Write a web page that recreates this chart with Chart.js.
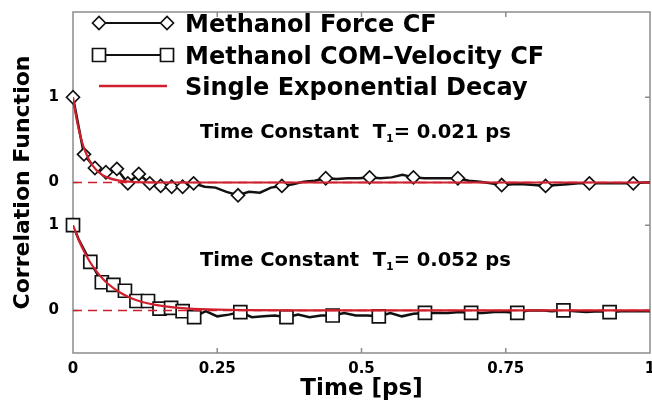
<!DOCTYPE html>
<html>
<head>
<meta charset="utf-8">
<title>Methanol correlation functions</title>
<script src="https://cdn.jsdelivr.net/npm/chart.js@4.4.0/dist/chart.umd.min.js"></script>
<style>
  html, body { margin: 0; padding: 0; background: #fff; }
  #wrap { width: 652px; height: 404px; }
</style>
</head>
<body>
<div id="wrap"><canvas id="cfChart" width="652" height="404"></canvas></div>
<script>
// --- DATA ---
const xTickValues = [0, 0.25, 0.5, 0.75, 1];
const xTickLabels = ['0', '0.25', '0.5', '0.75', '1'];
const yTickValues = [0, 1, 1.5, 2.5];
const yTickLabels = ['0', '1', '0', '1'];
const topOffset = 1.5; // force CF panel is drawn 1.5 units above the COM panel

const forceTime = [0, 0.019, 0.038, 0.057, 0.076, 0.095, 0.114, 0.133, 0.152, 0.171,
  0.19, 0.209, 0.228, 0.247, 0.266, 0.286, 0.305, 0.324, 0.343, 0.362,
  0.381, 0.4, 0.419, 0.438, 0.457, 0.476, 0.495, 0.514, 0.533, 0.552,
  0.571, 0.59, 0.609, 0.628, 0.647, 0.667, 0.686, 0.705, 0.724, 0.743,
  0.762, 0.781, 0.8, 0.819, 0.838, 0.857, 0.876, 0.895, 0.914, 0.933,
  0.952, 0.971, 0.99, 1.0];
const forceCF = [1.0, 0.33, 0.17, 0.12, 0.16, -0.01, 0.10, -0.01, -0.04, -0.05,
  -0.05, -0.01, -0.05, -0.06, -0.11, -0.15, -0.11, -0.12, -0.06, -0.04,
  -0.02, 0.01, 0.02, 0.05, 0.04, 0.05, 0.05, 0.06, 0.05, 0.06,
  0.09, 0.06, 0.05, 0.05, 0.05, 0.05, 0.02, 0.01, -0.01, -0.03,
  -0.02, -0.02, -0.03, -0.04, -0.03, -0.02, -0.01, -0.01, -0.01, -0.01,
  -0.01, -0.01, 0.0, 0.0];
const forceMarkerIdx = [0, 1, 2, 3, 4, 5, 6, 7, 8, 9, 10, 11, 15, 19, 23, 27, 31, 35, 39, 43, 47, 51];

const comTime = [0, 0.01, 0.03, 0.05, 0.07, 0.09, 0.11, 0.13, 0.15, 0.17,
  0.19, 0.21, 0.23, 0.25, 0.27, 0.29, 0.31, 0.33, 0.35, 0.37,
  0.39, 0.41, 0.43, 0.45, 0.47, 0.49, 0.51, 0.53, 0.55, 0.57,
  0.59, 0.61, 0.63, 0.65, 0.67, 0.69, 0.71, 0.73, 0.75, 0.77,
  0.79, 0.81, 0.83, 0.85, 0.87, 0.89, 0.91, 0.93, 0.95, 0.97,
  0.99, 1.0];
const comCF = [1.0, 0.83, 0.57, 0.33, 0.30, 0.23, 0.11, 0.11, 0.02, 0.03,
  -0.01, -0.08, -0.01, -0.07, -0.05, -0.02, -0.08, -0.07, -0.06, -0.08,
  -0.05, -0.08, -0.06, -0.06, -0.03, -0.06, -0.06, -0.07, -0.03, -0.07,
  -0.04, -0.03, -0.03, -0.03, -0.02, -0.03, -0.03, -0.02, -0.02, -0.03,
  0.0, 0.0, -0.01, 0.0, -0.01, -0.02, -0.01, -0.02, -0.01, -0.01,
  -0.01, -0.01];
const comMarkerIdx = [0, 2, 3, 4, 5, 6, 7, 8, 9, 10, 11, 15, 19, 23, 27, 31, 35, 39, 43, 47];

// single exponential fits, T1 = 0.021 ps and 0.052 ps
const forceFitTime = [0, 0.005, 0.01, 0.015, 0.02, 0.03, 0.04, 0.05, 0.06, 0.08, 0.1, 0.13, 0.17, 0.25, 1.0];
const forceFitValue = [1, 0.788, 0.621, 0.49, 0.386, 0.24, 0.149, 0.092, 0.057, 0.022, 0.009, 0.002, 0.0, 0, 0];
const comFitTime = [0, 0.01, 0.02, 0.03, 0.04, 0.05, 0.06, 0.08, 0.1, 0.12, 0.14, 0.17, 0.2, 0.25, 0.3, 0.4, 1.0];
const comFitValue = [1, 0.825, 0.681, 0.562, 0.463, 0.382, 0.315, 0.215, 0.146, 0.099, 0.068, 0.038, 0.021, 0.008, 0.003, 0.0, 0];

const legendLabels = ['Methanol Force CF', 'Methanol COM\u2013Velocity CF', 'Single Exponential Decay'];
const timeConstants = ['0.021', '0.052'];

// --- STYLE ---
const FONT = '"DejaVu Sans", sans-serif';
const RED = '#d0202e';
const INK = '#111';
const FRAME = '#8c8c8c';

const toPoints = (ts, vs, shift) => ts.map((t, i) => ({ x: t, y: vs[i] + shift }));

function drawDiamond(ctx, x, y, r) {
  ctx.beginPath();
  ctx.moveTo(x - r, y); ctx.lineTo(x, y - r); ctx.lineTo(x + r, y); ctx.lineTo(x, y + r);
  ctx.closePath();
  ctx.fill(); ctx.stroke();
}

function drawSquare(ctx, x, y, s) {
  ctx.beginPath();
  ctx.rect(x - s / 2, y - s / 2, s, s);
  ctx.fill(); ctx.stroke();
}

function drawNote(ctx, x, y, tc) {
  ctx.fillStyle = '#000';
  ctx.textBaseline = 'alphabetic';
  ctx.textAlign = 'left';
  ctx.font = `bold 19.5px ${FONT}`;
  const head = 'Time Constant  T';
  ctx.fillText(head, x, y);
  let cx = x + ctx.measureText(head).width;
  ctx.font = `bold 11px ${FONT}`;
  ctx.fillText('1', cx, y + 4);
  cx += ctx.measureText('1').width;
  ctx.font = `bold 19.5px ${FONT}`;
  ctx.fillText('= ' + tc + ' ps', cx, y);
}

// frame, inward ticks, legend and time-constant notes
const decorPlugin = {
  id: 'decor',
  beforeDatasetsDraw(chart) {
    const { ctx, chartArea: a, scales: { x, y } } = chart;
    ctx.save();
    ctx.strokeStyle = FRAME;
    ctx.lineWidth = 1.5;
    ctx.strokeRect(a.left, a.top, a.right - a.left, a.bottom - a.top);
    ctx.beginPath();
    xTickValues.slice(1, -1).forEach(v => {
      const px = x.getPixelForValue(v);
      ctx.moveTo(px, a.bottom); ctx.lineTo(px, a.bottom - 5);
      ctx.moveTo(px, a.top); ctx.lineTo(px, a.top + 5);
    });
    yTickValues.forEach(v => {
      const py = y.getPixelForValue(v);
      ctx.moveTo(a.left, py); ctx.lineTo(a.left + 5, py);
      ctx.moveTo(a.right, py); ctx.lineTo(a.right - 5, py);
    });
    ctx.stroke();
    ctx.restore();
  },
  afterDraw(chart) {
    const { ctx, chartArea: a, scales: { x, y } } = chart;
    ctx.save();

    // legend
    const x0 = a.left + 26, x1 = a.left + 94, tx = a.left + 112;
    const rows = [a.top + 11, a.top + 43, a.top + 74];
    ctx.lineWidth = 2;
    ctx.strokeStyle = INK;
    ctx.beginPath(); ctx.moveTo(x0, rows[0]); ctx.lineTo(x1, rows[0]); ctx.stroke();
    ctx.beginPath(); ctx.moveTo(x0, rows[1]); ctx.lineTo(x1, rows[1]); ctx.stroke();
    ctx.fillStyle = '#fff';
    ctx.lineWidth = 1.7;
    drawDiamond(ctx, x0, rows[0], 6.5); drawDiamond(ctx, x1, rows[0], 6.5);
    drawSquare(ctx, x0, rows[1], 13); drawSquare(ctx, x1, rows[1], 13);
    ctx.strokeStyle = RED;
    ctx.lineWidth = 2.5;
    ctx.beginPath(); ctx.moveTo(x0, rows[2]); ctx.lineTo(x1, rows[2]); ctx.stroke();

    ctx.fillStyle = '#000';
    ctx.font = `bold 24px ${FONT}`;
    ctx.textBaseline = 'alphabetic';
    legendLabels.forEach((label, i) => ctx.fillText(label, tx, rows[i] + 8.5));

    // time constant notes, one per panel
    const nx = x.getPixelForValue(0.22);
    drawNote(ctx, nx, y.getPixelForValue(topOffset + 0.52), timeConstants[0]);
    drawNote(ctx, nx, y.getPixelForValue(0.52), timeConstants[1]);
    ctx.restore();
  }
};

// --- CHART ---
const yTickFont = { family: FONT, size: 15, weight: 'bold' };
const xTickFont = { family: FONT, size: 15, weight: 'bold' };

new Chart(document.getElementById('cfChart'), {
  type: 'line',
  data: {
    datasets: [
      {
        label: 'fit force', order: 0,
        data: toPoints(forceFitTime, forceFitValue, topOffset),
        borderColor: RED, borderWidth: 2.2, pointRadius: 0, cubicInterpolationMode: 'monotone'
      },
      {
        label: 'fit com', order: 0,
        data: toPoints(comFitTime, comFitValue, 0),
        borderColor: RED, borderWidth: 2.2, pointRadius: 0, cubicInterpolationMode: 'monotone'
      },
      {
        label: 'zero force', order: 1,
        data: toPoints([xTickValues[0], xTickValues[4]], [0, 0], topOffset),
        borderColor: RED, borderWidth: 1.5, borderDash: [9, 6], pointRadius: 0
      },
      {
        label: 'zero com', order: 1,
        data: toPoints([xTickValues[0], xTickValues[4]], [0, 0], 0),
        borderColor: RED, borderWidth: 1.5, borderDash: [9, 6], pointRadius: 0
      },
      {
        label: legendLabels[0], order: 2,
        data: toPoints(forceTime, forceCF, topOffset),
        borderColor: INK, borderWidth: 2.5, tension: 0, clip: false,
        pointStyle: 'rectRot',
        pointRadius: ctx => forceMarkerIdx.includes(ctx.dataIndex) ? 6.5 : 0,
        pointBackgroundColor: '#fff', pointBorderColor: INK, pointBorderWidth: 1.7
      },
      {
        label: legendLabels[1], order: 2,
        data: toPoints(comTime, comCF, 0),
        borderColor: INK, borderWidth: 2.5, tension: 0, clip: false,
        pointStyle: 'rect',
        pointRadius: ctx => comMarkerIdx.includes(ctx.dataIndex) ? 9.2 : 0,
        pointBackgroundColor: '#fff', pointBorderColor: INK, pointBorderWidth: 1.7
      }
    ]
  },
  options: {
    responsive: false,
    animation: false,
    events: [],
    layout: { autoPadding: false, padding: { top: 12, right: 2, left: 0, bottom: 0 } },
    plugins: { legend: { display: false }, tooltip: { enabled: false } },
    scales: {
      x: {
        type: 'linear', min: 0, max: 1,
        afterBuildTicks: s => { s.ticks = xTickValues.map(v => ({ value: v })); },
        afterFit: s => { s.height = 51; s.paddingLeft = 0; s.paddingRight = 0; },
        grid: { display: false, drawTicks: false },
        border: { display: false },
        ticks: { padding: 7, color: '#000', font: xTickFont, maxRotation: 0, callback: (v, i) => xTickLabels[i] },
        title: {
          display: true, text: 'Time [ps]', color: '#000',
          font: { family: FONT, size: 23, weight: 'bold' },
          padding: { top: 0, bottom: 1 }
        }
      },
      y: {
        type: 'linear', min: -0.5, max: 3.5,
        afterBuildTicks: s => { s.ticks = yTickValues.map(v => ({ value: v })); },
        afterFit: s => { s.width = 73; s.paddingTop = 0; s.paddingBottom = 0; },
        grid: { display: false, drawTicks: false },
        border: { display: false },
        ticks: { padding: 14, color: '#000', font: yTickFont, callback: (v, i) => yTickLabels[i] },
        title: {
          display: true, text: 'Correlation Function', color: '#000',
          font: { family: FONT, size: 22, weight: 'bold' },
          padding: { top: 10, bottom: 0 }
        }
      }
    }
  },
  plugins: [decorPlugin]
});
</script>
</body>
</html>
